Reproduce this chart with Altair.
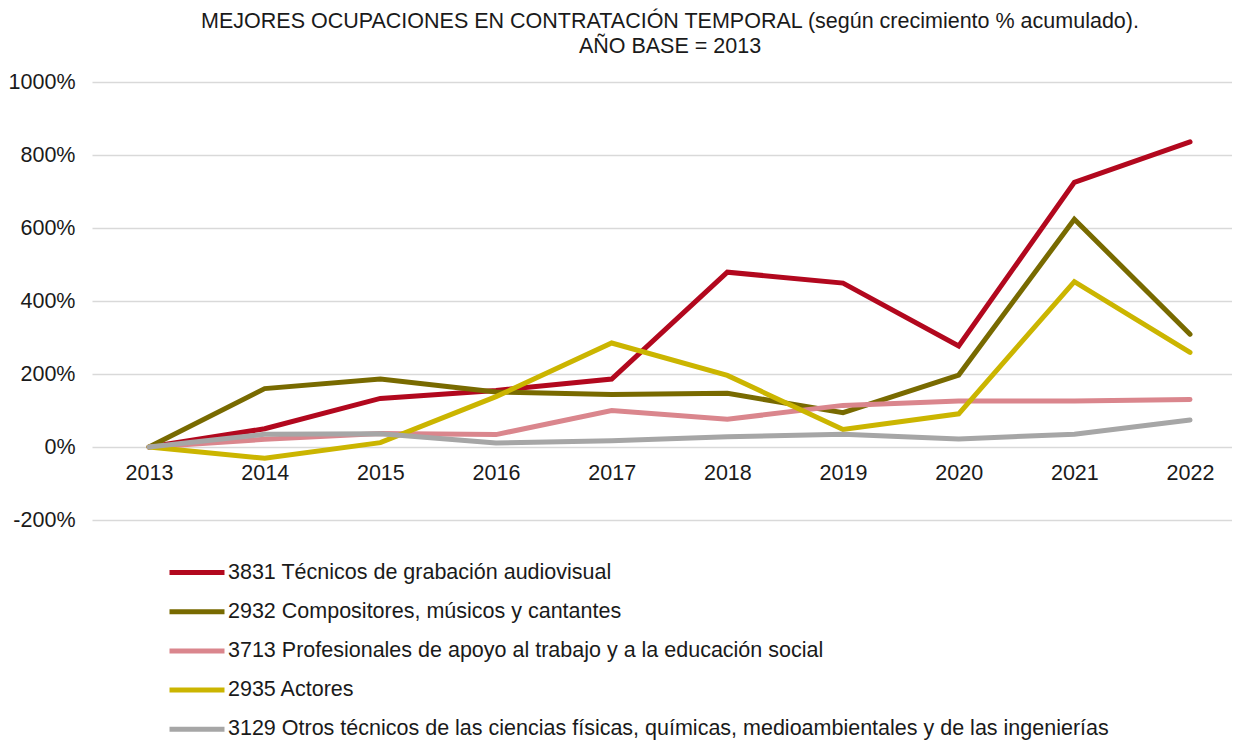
import altair as alt
import pandas as pd

years = [2013, 2014, 2015, 2016, 2017, 2018, 2019, 2020, 2021, 2022]

series_names = [
    "3831 Técnicos de grabación audiovisual",
    "2932 Compositores, músicos y cantantes",
    "3713 Profesionales de apoyo al trabajo y a la educación social",
    "2935 Actores",
    "3129 Otros técnicos de las ciencias físicas, químicas, medioambientales y de las ingenierías",
]
series_colors = ["#B2081E", "#786A00", "#DA868D", "#CBB500", "#A6A6A6"]

tecnicos_grabacion = [0, 50, 133, 155, 186, 479, 449, 277, 725, 836]
compositores = [0, 160, 186, 151, 144, 147, 94, 197, 624, 309]
profesionales_apoyo = [0, 21, 37, 34, 100, 76, 114, 126, 126, 130]
actores = [0, -31, 12, 138, 285, 196, 48, 91, 453, 259]
otros_tecnicos = [0, 35, 36, 11, 17, 28, 35, 22, 35, 74]

y_ticks = [-200, 0, 200, 400, 600, 800, 1000]

all_values = [tecnicos_grabacion, compositores, profesionales_apoyo, actores, otros_tecnicos]
rows = []
for name, vals in zip(series_names, all_values):
    for yr, v in zip(years, vals):
        rows.append({"Año": yr, "Ocupación": name, "Valor": v})
df = pd.DataFrame(rows)

font = "Liberation Sans"
txt = "#1a1a1a"
fs = 21.5

chart = alt.Chart(df).mark_line(strokeWidth=5, strokeCap="round", strokeJoin="miter").encode(
    x=alt.X("Año:Q",
            scale=alt.Scale(domain=[2012.507, 2022.363], nice=False, zero=False),
            axis=alt.Axis(values=years, format="d", title=None, grid=False, domain=False,
                          ticks=False, labelFontSize=fs, labelFont=font, labelColor=txt,
                          labelPadding=15, offset=-73, labelFlush=False)),
    y=alt.Y("Valor:Q",
            scale=alt.Scale(domain=[-200, 1000], nice=False),
            axis=alt.Axis(values=y_ticks, labelExpr="datum.value + '%'", title=None,
                          domain=False, ticks=False, gridColor="#d9d9d9", gridWidth=1.5,
                          labelFontSize=fs, labelFont=font, labelColor=txt, labelPadding=17)),
    color=alt.Color("Ocupación:N",
                    scale=alt.Scale(domain=series_names, range=series_colors),
                    legend=alt.Legend(orient="none", legendX=88.5, legendY=474, direction="vertical",
                                      title=None, symbolType="M-2,0H2", symbolSize=756,
                                      symbolStrokeWidth=5, labelFontSize=fs, labelFont=font,
                                      labelColor=txt, labelLimit=1200, labelOffset=14.5,
                                      rowPadding=12.2)),
    order=alt.Order("Año:Q"),
).properties(
    width=1140,
    height=438,
    padding={"left": 0, "top": 2, "right": 0, "bottom": 0},
    title=alt.TitleParams(
        text=["MEJORES OCUPACIONES EN CONTRATACIÓN TEMPORAL (según crecimiento % acumulado).",
              "AÑO BASE = 2013"],
        fontSize=fs, font=font, fontWeight="normal", color=txt, lineHeight=25,
        anchor="middle", dx=8, offset=14),
).configure_view(stroke=None)

chart.save("out.html", embed_options={"renderer": "svg", "actions": False})
